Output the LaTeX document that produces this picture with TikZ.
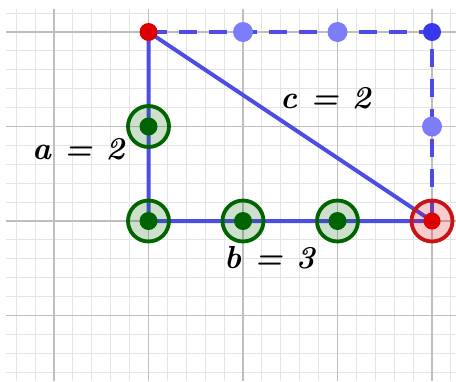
\documentclass[tikz,border=0pt]{standalone}
\usepackage{fontspec}
\definecolor{minorgrid}{RGB}{228,228,228}
\definecolor{majorgrid}{RGB}{190,190,190}
\definecolor{segblue}{RGB}{77,77,230}
\definecolor{ptlight}{RGB}{125,125,250}
\definecolor{ptdark}{RGB}{55,55,235}
\definecolor{ptred}{RGB}{220,0,0}
\definecolor{ringred}{RGB}{200,20,20}
\definecolor{ptgreen}{RGB}{0,100,0}
\tikzset{
  seg/.style={draw=segblue,line width=4bp},
  dseg/.style={draw=segblue,line width=4bp,dash pattern=on 18bp off 12bp},
  dotred/.style={circle,fill=ptred,inner sep=0pt,minimum size=18bp},
  dotlight/.style={circle,fill=ptlight,inner sep=0pt,minimum size=20bp},
  dotdark/.style={circle,fill=ptdark,inner sep=0pt,minimum size=18bp},
  greenring/.style={circle,draw=ptgreen,line width=3.8bp,fill=ptgreen,fill opacity=0.2,draw opacity=1,inner sep=0pt,minimum size=41bp},
  greendot/.style={circle,fill=ptgreen,inner sep=0pt,minimum size=18bp},
  redring/.style={circle,draw=ringred,line width=3.8bp,fill=ptred,fill opacity=0.2,draw opacity=1,inner sep=0pt,minimum size=41bp},
  reddot/.style={circle,fill=ptred,inner sep=0pt,minimum size=17bp},
  lbl/.style={anchor=base west,inner sep=0pt,font=\fontsize{32}{36}\selectfont\bfseries\itshape}
}
\begin{document}
\begin{tikzpicture}[x=1bp,y=-1bp]
\useasboundingbox (0,0) rectangle (456,381);
% grid
\begin{scope}
\clip (6,9) rectangle (456,381);
\foreach \k in {-3,...,21} {
  \draw[minorgrid,line width=1bp] ({54+18.9*\k},0) -- ({54+18.9*\k},381);
}
\foreach \k in {-2,...,19} {
  \draw[minorgrid,line width=1bp] (0,{32+18.9*\k}) -- (456,{32+18.9*\k});
}
\foreach \x in {54,148.5,243,337.5,432} {
  \draw[majorgrid,line width=1.3bp] (\x,0) -- (\x,381);
}
\foreach \y in {32,126.5,221,315.5} {
  \draw[majorgrid,line width=1.3bp] (0,\y) -- (456,\y);
}
\end{scope}
% positions
\coordinate (A) at (148.5,32);
\coordinate (B) at (148.5,221);
\coordinate (C) at (432,221);
\coordinate (D) at (432,32);
% segments
\draw[dseg] (A) -- (D) -- (C);
\draw[seg,line join=round] (A) -- (B) -- (C) -- cycle;
% points
\node[greenring] (g1r) at (148.5,126.5) {};
\node[greendot] (g1) at (148.5,126.5) {};
\node[greenring] (g2r) at (B) {};
\node[greendot] (g2) at (B) {};
\node[greenring] (g3r) at (243,221) {};
\node[greendot] (g3) at (243,221) {};
\node[greenring] (g4r) at (337.5,221) {};
\node[greendot] (g4) at (337.5,221) {};
\node[redring] (cr) at (C) {};
\node[reddot] (cd) at (C) {};
\node[dotred] (ad) at (A) {};
\node[dotlight] (l1) at (243,32) {};
\node[dotlight] (l2) at (337.5,32) {};
\node[dotlight] (l3) at (432,126.5) {};
\node[dotdark] (dd) at (D) {};
% labels
\node[lbl] (la) at (32,159) {a = 2};
\node[lbl] (lc) at (280,108) {c = 2};
\node[lbl] (lb) at (224,268) {b = 3};
\end{tikzpicture}
\end{document}
